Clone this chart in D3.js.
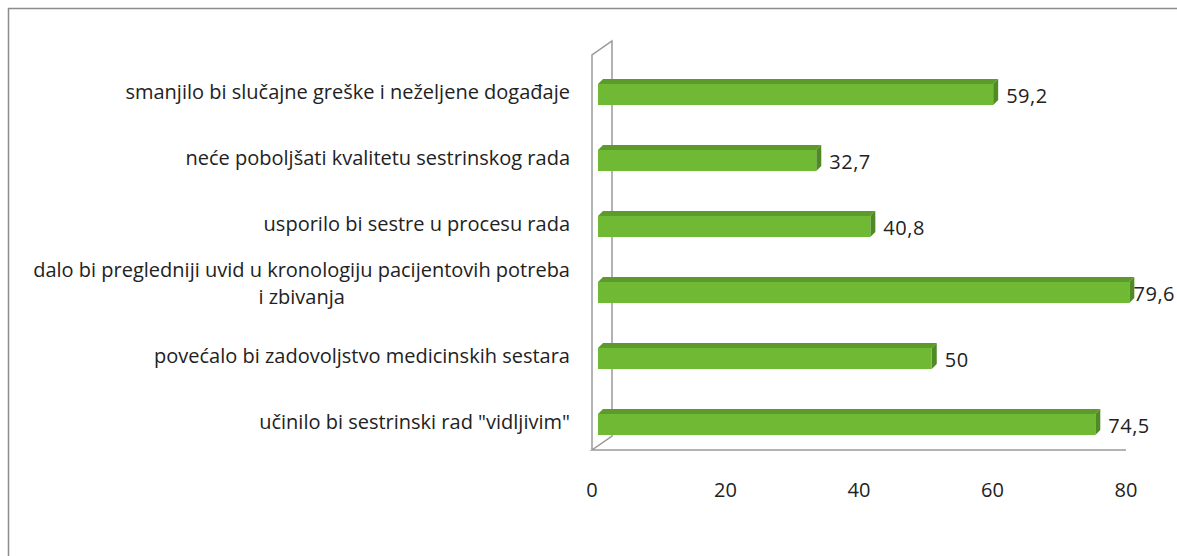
<!DOCTYPE html>
<html>
<head>
<meta charset="utf-8">
<script src="https://cdn.jsdelivr.net/npm/d3@7"></script>
<style>
  body { margin: 0; background: #fff; }
  text { font-family: "Open Sans", sans-serif; fill: #222; }
</style>
</head>
<body>
<div id="chart"></div>
<script>
// chart data
const categories = [
  "smanjilo bi slučajne greške i neželjene događaje",
  "neće poboljšati kvalitetu sestrinskog rada",
  "usporilo bi sestre u procesu rada",
  "dalo bi pregledniji uvid u kronologiju pacijentovih potreba\ni zbivanja",
  "povećalo bi zadovoljstvo medicinskih sestara",
  "učinilo bi sestrinski rad \"vidljivim\""
];
const values = [59.2, 32.7, 40.8, 79.6, 50, 74.5];
const tickValues = [0, 20, 40, 60, 80];

const width = 1177;
const height = 556;

// 3d look: wall depth and bar depth
const wallDx = 20, wallDy = -14;
const barDx = 5, barDy = -5;
const barShift = 6;
const wallTop = 55, floorY = 450;

var svg = d3.select("#chart").append("svg")
  .attr("width", width)
  .attr("height", height);

// outer border
svg.append("rect")
  .attr("x", 8.5).attr("y", 8.5)
  .attr("width", width + 10).attr("height", height + 10)
  .attr("fill", "none")
  .attr("stroke", "#8c8c8c")
  .attr("stroke-width", 1.5);

var x = d3.scaleLinear().domain([0, 80]).range([592, 1126]);
var y = d3.scaleBand().domain(categories)
  .range([61.5, 457.5])
  .paddingInner(0.68)
  .paddingOuter(0.34);

// walls
var x0 = x(0);
var wall = svg.append("g")
  .attr("fill", "none")
  .attr("stroke", "#9a9a9a")
  .attr("stroke-width", 1.5);
wall.append("path")
  .attr("d", "M" + x0 + "," + floorY + "V" + wallTop +
    "L" + (x0 + wallDx) + "," + (wallTop + wallDy) +
    "V" + (floorY + wallDy) +
    "L" + x0 + "," + floorY +
    "H" + x(80));

// bars
var bars = svg.append("g").selectAll("g")
  .data(values)
  .enter().append("g");

bars.each(function (v, i) {
  var g = d3.select(this);
  var bx = x(0) + barShift;
  var bw = x(v) - x(0);
  var by = y(categories[i]);
  var bh = y.bandwidth();
  // top face
  g.append("path")
    .attr("fill", "#5c9a2c")
    .attr("d", "M" + bx + "," + by + "l" + barDx + "," + barDy +
      "h" + bw + "l" + (-barDx) + "," + (-barDy) + "z");
  // side face
  g.append("path")
    .attr("fill", "#4f8a25")
    .attr("d", "M" + (bx + bw) + "," + by + "l" + barDx + "," + barDy +
      "v" + bh + "l" + (-barDx) + "," + (-barDy) + "z");
  // front face
  g.append("rect")
    .attr("x", bx).attr("y", by)
    .attr("width", bw).attr("height", bh)
    .attr("fill", "#70b935");
});

// value labels
svg.append("g").selectAll("text")
  .data(values)
  .enter().append("text")
  .attr("x", function (d) { return x(d) + 19; })
  .attr("y", function (d, i) { return y(categories[i]) + y.bandwidth() / 2 + 8; })
  .attr("font-size", 20)
  .attr("letter-spacing", 0.5)
  .text(function (d) { return String(d).replace(".", ","); })
  .each(function () {
    // keep the label inside the picture
    var t = d3.select(this);
    var w = this.getComputedTextLength();
    var lx = +t.attr("x");
    if (lx + w > width - 2) t.attr("x", width - 2 - w);
  });

// category labels, wrapped ones get one text per line
var labelG = svg.append("g");
categories.forEach(function (d) {
  var lines = d.split("\n");
  var cy = y(d) + y.bandwidth() / 2 - 3;
  var lh = 27;
  var top = cy - (lines.length - 1) * lh / 2 + 7 - (lines.length - 1) * 6;
  var texts = lines.map(function (line, k) {
    return labelG.append("text")
      .attr("font-size", 20)
      .attr("text-anchor", "end")
      .attr("x", 570)
      .attr("y", top + k * lh)
      .text(line);
  });
  if (lines.length > 1) {
    // centre the lines of a wrapped label
    var maxW = d3.max(texts, function (t) { return t.node().getComputedTextLength(); });
    texts.forEach(function (t) {
      t.attr("text-anchor", "middle").attr("x", 570 - maxW / 2);
    });
  }
});

// x axis labels (no line, no ticks)
svg.append("g").selectAll("text")
  .data(tickValues)
  .enter().append("text")
  .attr("x", function (d) { return x(d); })
  .attr("y", 497)
  .attr("font-size", 20)
  .attr("text-anchor", "middle")
  .text(function (d) { return d; });
</script>
</body>
</html>
